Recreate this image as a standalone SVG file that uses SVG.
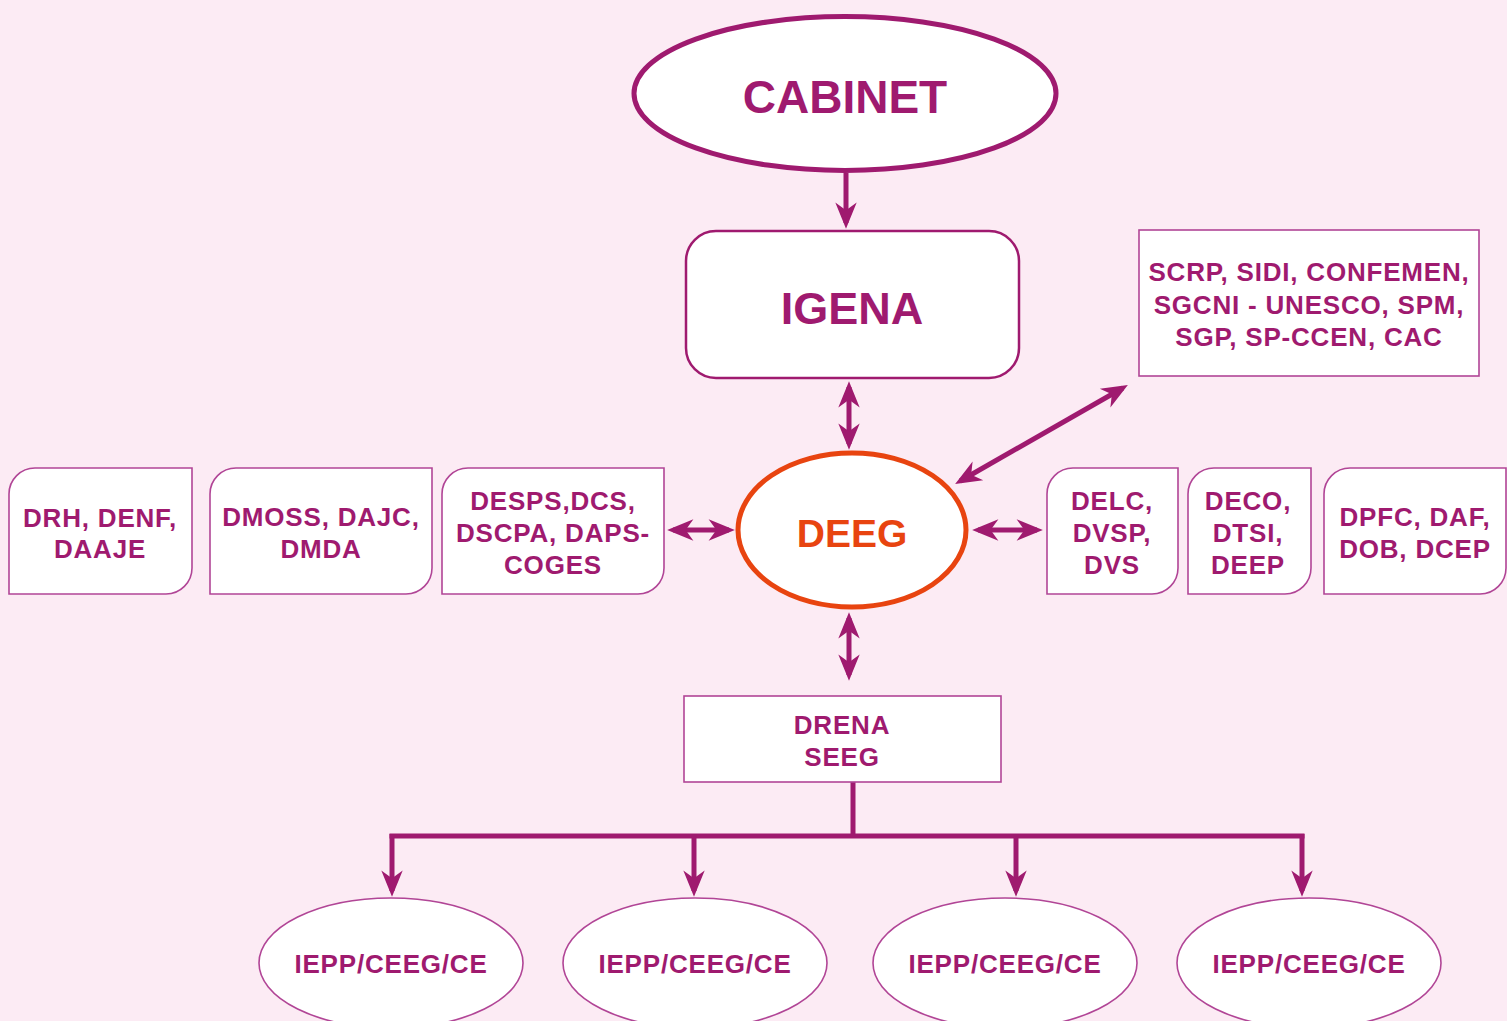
<svg xmlns="http://www.w3.org/2000/svg" width="1507" height="1021" viewBox="0 0 1507 1021">
<style>
.t{font-family:"Liberation Sans",Arial,sans-serif;font-weight:bold;fill:#9f1a6f;text-anchor:middle}
.s{font-size:26px;letter-spacing:0.8px}
.box{fill:#fff;stroke:#b14596;stroke-width:1.6}
.con{stroke:#9f1a6f;stroke-width:5;fill:none}
</style>
<defs>
<marker id="ah" markerUnits="userSpaceOnUse" markerWidth="34" markerHeight="26" viewBox="-34 -12 35 24" refX="-6" refY="0" orient="auto-start-reverse">
<path d="M0,0 L-27,-11 L-19,0 L-27,11 Z" transform="translate(-6,0) translate(6,0)" fill="#9f1a6f"/>
</marker>
</defs>
<rect width="1507" height="1021" fill="#fcebf4"/>
<g id="connectors">
<line class="con" x1="846" y1="173" x2="846" y2="223" marker-end="url(#ah)"/>
<line class="con" x1="849" y1="387" x2="849" y2="444" marker-start="url(#ah)" marker-end="url(#ah)"/>
<line class="con" x1="960.2" y1="481" x2="1122.8" y2="388" marker-start="url(#ah)" marker-end="url(#ah)"/>
<line class="con" x1="673" y1="530" x2="729" y2="530" marker-start="url(#ah)" marker-end="url(#ah)"/>
<line class="con" x1="978" y1="530" x2="1037" y2="530" marker-start="url(#ah)" marker-end="url(#ah)"/>
<line class="con" x1="849" y1="618" x2="849" y2="675" marker-start="url(#ah)" marker-end="url(#ah)"/>
<path class="con" d="M853,782 V836 M389.5,836 H1304.5" stroke-linecap="butt"/>
<line class="con" x1="392" y1="834" x2="392" y2="891" marker-end="url(#ah)"/>
<line class="con" x1="694" y1="834" x2="694" y2="891" marker-end="url(#ah)"/>
<line class="con" x1="1016" y1="834" x2="1016" y2="891" marker-end="url(#ah)"/>
<line class="con" x1="1302" y1="834" x2="1302" y2="891" marker-end="url(#ah)"/>
</g>
<g id="cabinet">
<ellipse cx="845" cy="93.5" rx="211" ry="77" fill="#fff" stroke="#9f1a6f" stroke-width="5"/>
<text class="t" x="845" y="113" font-size="46">CABINET</text>
</g>
<g id="igena">
<rect x="686" y="231" width="333" height="147" rx="30" fill="#fff" stroke="#9f1a6f" stroke-width="2.5"/>
<text class="t" x="852" y="324" font-size="45">IGENA</text>
</g>
<g id="deeg">
<ellipse cx="852" cy="530" rx="114" ry="77" fill="#fff" stroke="#e84410" stroke-width="5"/>
<text class="t" x="852" y="547" font-size="39" style="fill:#e84410">DEEG</text>
</g>
<g id="scrp">
<rect class="box" x="1139" y="230" width="340" height="146"/>
<text class="t s" x="1309" y="281">SCRP, SIDI, CONFEMEN,</text>
<text class="t s" x="1309" y="314">SGCNI - UNESCO, SPM,</text>
<text class="t s" x="1309" y="346">SGP, SP-CCEN, CAC</text>
</g>
<g id="drh">
<path class="box" d="M9,494 A26,26 0 0 1 35,468 H192 V568 A26,26 0 0 1 166,594 H9 Z"/>
<text class="t s" x="100" y="527">DRH, DENF,</text>
<text class="t s" x="100" y="558">DAAJE</text>
</g>
<g id="dmoss">
<path class="box" d="M210,494 A26,26 0 0 1 236,468 H432 V568 A26,26 0 0 1 406,594 H210 Z"/>
<text class="t s" x="321" y="526">DMOSS, DAJC,</text>
<text class="t s" x="321" y="558">DMDA</text>
</g>
<g id="desps">
<path class="box" d="M442,494 A26,26 0 0 1 468,468 H664 V568 A26,26 0 0 1 638,594 H442 Z"/>
<text class="t s" x="553" y="510">DESPS,DCS,</text>
<text class="t s" x="553" y="542">DSCPA, DAPS-</text>
<text class="t s" x="553" y="574">COGES</text>
</g>
<g id="delc">
<path class="box" d="M1047,494 A26,26 0 0 1 1073,468 H1178 V568 A26,26 0 0 1 1152,594 H1047 Z"/>
<text class="t s" x="1112" y="510">DELC,</text>
<text class="t s" x="1112" y="542">DVSP,</text>
<text class="t s" x="1112" y="574">DVS</text>
</g>
<g id="deco">
<path class="box" d="M1188,494 A26,26 0 0 1 1214,468 H1311 V568 A26,26 0 0 1 1285,594 H1188 Z"/>
<text class="t s" x="1248" y="510">DECO,</text>
<text class="t s" x="1248" y="542">DTSI,</text>
<text class="t s" x="1248" y="574">DEEP</text>
</g>
<g id="dpfc">
<path class="box" d="M1324,494 A26,26 0 0 1 1350,468 H1506 V568 A26,26 0 0 1 1480,594 H1324 Z"/>
<text class="t s" x="1415" y="526">DPFC, DAF,</text>
<text class="t s" x="1415" y="558">DOB, DCEP</text>
</g>
<g id="drena">
<rect class="box" x="684" y="696" width="317" height="86"/>
<text class="t s" x="842" y="734">DRENA</text>
<text class="t s" x="842" y="766">SEEG</text>
</g>
<g id="iepp1">
<ellipse class="box" cx="391" cy="963" rx="132" ry="65"/>
<text class="t s" x="391" y="973">IEPP/CEEG/CE</text>
</g>
<g id="iepp2">
<ellipse class="box" cx="695" cy="963" rx="132" ry="65"/>
<text class="t s" x="695" y="973">IEPP/CEEG/CE</text>
</g>
<g id="iepp3">
<ellipse class="box" cx="1005" cy="963" rx="132" ry="65"/>
<text class="t s" x="1005" y="973">IEPP/CEEG/CE</text>
</g>
<g id="iepp4">
<ellipse class="box" cx="1309" cy="963" rx="132" ry="65"/>
<text class="t s" x="1309" y="973">IEPP/CEEG/CE</text>
</g>
</svg>
